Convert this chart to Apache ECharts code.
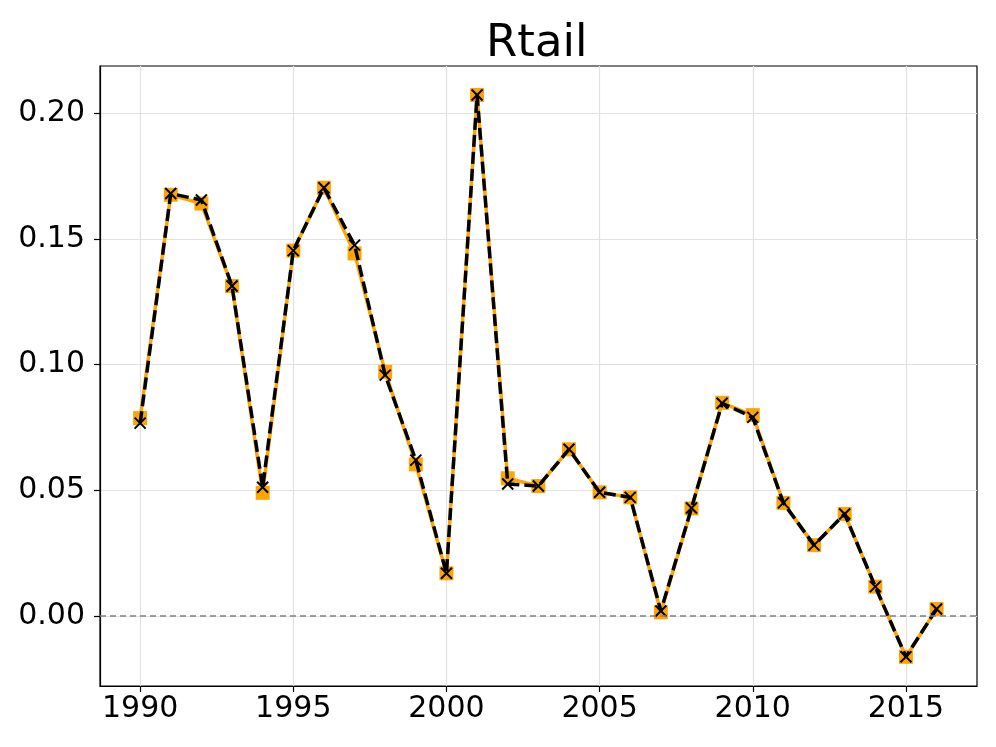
<!DOCTYPE html>
<html>
<head>
<meta charset="utf-8">
<script src="https://cdn.jsdelivr.net/npm/echarts@6/dist/echarts.min.js"></script>
<style>
  html, body { margin: 0; padding: 0; background: #fff; }
  #chart { width: 996px; height: 747px; }
</style>
</head>
<body>
<div id="chart"></div>
<script>
var years = [1990, 1991, 1992, 1993, 1994, 1995, 1996, 1997, 1998, 1999,
  2000, 2001, 2002, 2003, 2004, 2005, 2006, 2007, 2008, 2009,
  2010, 2011, 2012, 2013, 2014, 2015, 2016];
// orange squares, solid
var rtailA = [0.0787, 0.1675, 0.1640, 0.1312, 0.0490, 0.1453, 0.1703, 0.1442, 0.0971, 0.0603,
  0.0170, 0.2072, 0.0548, 0.0517, 0.0663, 0.0492, 0.0472, 0.0015, 0.0428, 0.0848,
  0.0799, 0.0450, 0.0282, 0.0406, 0.0117, -0.0162, 0.0028];
// black crosses, dashed
var rtailB = [0.0767, 0.1680, 0.1654, 0.1312, 0.0512, 0.1453, 0.1703, 0.1475, 0.0958, 0.0620,
  0.0170, 0.2072, 0.0525, 0.0517, 0.0663, 0.0492, 0.0472, 0.0020, 0.0430, 0.0846,
  0.0790, 0.0450, 0.0282, 0.0406, 0.0117, -0.0162, 0.0028];
var xTicks = [1990, 1995, 2000, 2005, 2010, 2015];
var yTicks = [0, 0.05, 0.1, 0.15, 0.2];

function pairs(ys) {
  return years.map(function (y, i) { return [y, ys[i]]; });
}

var font = 'DejaVu Sans';
var chart = echarts.init(document.getElementById('chart'));
chart.setOption({
  animation: false,
  title: {
    text: 'Rtail',
    left: 481,
    top: 17,
    textStyle: { fontFamily: font, fontSize: 45, fontWeight: 'normal', color: '#000' }
  },
  grid: {
    left: 100, right: 19, top: 66, bottom: 61,
    show: true, borderColor: '#000', borderWidth: 1.2
  },
  xAxis: {
    type: 'value',
    min: 1988.69, max: 2017.32,
    axisLine: { show: true, onZero: false, lineStyle: { color: '#000', width: 1.2 } },
    axisTick: { show: true, length: 6, customValues: xTicks, lineStyle: { color: '#000', width: 1.2 } },
    axisLabel: {
      customValues: xTicks, margin: 8,
      fontFamily: font, fontSize: 30, color: '#000',
      formatter: function (v) { return String(Math.round(v)); }
    },
    splitLine: { show: true, lineStyle: { color: '#e2e2e2', width: 1.2 } }
  },
  yAxis: {
    type: 'value',
    min: -0.0278, max: 0.2187,
    axisLine: { show: true, onZero: false, lineStyle: { color: '#000', width: 1.2 } },
    axisTick: { show: true, length: 6, customValues: yTicks, lineStyle: { color: '#000', width: 1.2 } },
    axisLabel: {
      customValues: yTicks, margin: 15,
      fontFamily: font, fontSize: 30, color: '#000',
      formatter: function (v) { return v.toFixed(2); }
    },
    splitLine: { show: true, lineStyle: { color: '#e2e2e2', width: 1.2 } }
  },
  series: [
    {
      type: 'line',
      data: pairs(rtailA),
      symbol: 'rect',
      symbolSize: 14,
      itemStyle: { color: '#ffa500' },
      lineStyle: { color: '#ffa500', width: 3.5 },
      markLine: {
        silent: true,
        symbol: 'none',
        label: { show: false },
        lineStyle: { color: '#808080', type: [6, 4], width: 1.5 },
        data: [{ yAxis: 0 }]
      },
      z: 2
    },
    {
      type: 'line',
      data: pairs(rtailB),
      symbol: 'path://M0,0 L10,10 M10,0 L0,10',
      symbolSize: 11,
      itemStyle: { color: 'none', borderColor: '#000', borderWidth: 2 },
      lineStyle: { color: '#000', width: 3.5, type: [12, 5] },
      z: 3
    }
  ]
});
</script>
</body>
</html>
